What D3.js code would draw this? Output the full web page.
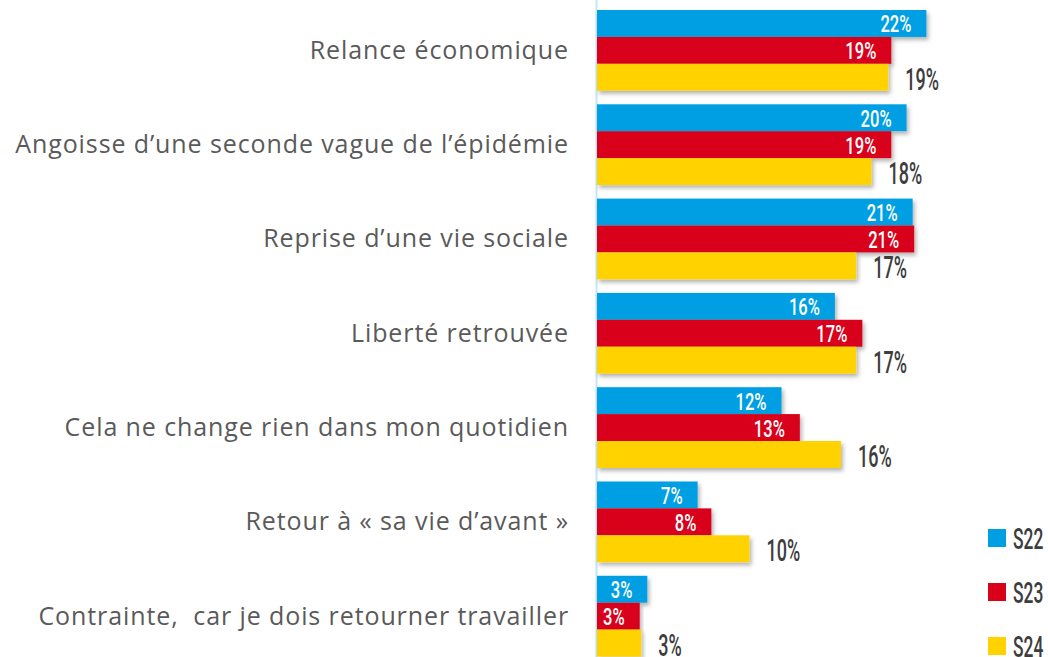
<!DOCTYPE html>
<html>
<head>
<meta charset="utf-8">
<script src="https://cdn.jsdelivr.net/npm/d3@7"></script>
<style>
    body { margin: 0; background: #fff; }
    #chart { width: 1048px; height: 657px; }
    .cat { font-family: "Open Sans", Roboto, sans-serif; fill: #5a5a5a; }
    .num { font-family: Roboto, "DejaVu Sans", sans-serif; font-weight: 500; }
</style>
</head>
<body>
<div id="chart"></div>
<script>
let categories = [
    "Relance économique",
    "Angoisse d\u2019une seconde vague de l\u2019épidémie",
    "Reprise d\u2019une vie sociale",
    "Liberté retrouvée",
    "Cela ne change rien dans mon quotidien",
    "Retour à « sa vie d\u2019avant »",
    "Contrainte,  car je dois retourner travailler"
];
let seriesNames = ["S22", "S23", "S24"];
let s22 = [22, 20, 21, 16, 12, 7, 3];
let s23 = [19, 19, 21, 17, 13, 8, 3];
let s24 = [19, 18, 17, 17, 16, 10, 3];
// bar lengths (labels show the rounded values above)
let s22Len = [21.6, 20.3, 20.7, 15.6, 12.1, 6.6, 3.3];
let s23Len = [19.3, 19.3, 20.8, 17.4, 13.3, 7.5, 2.8];
let s24Len = [19.1, 18.0, 17.0, 17.0, 16.0, 10.0, 2.9];
let colors = ["#009fe3", "#d9001a", "#ffd200"];

let width = 1048, height = 657;

let svg = d3.select("#chart")
    .append("svg")
    .attr("width", width)
    .attr("height", height);

// soft shadow under the bars
let defs = svg.append("defs");
defs.append("filter")
    .attr("id", "shadow")
    .attr("x", "-5%").attr("y", "-20%")
    .attr("width", "115%").attr("height", "160%")
    .append("feDropShadow")
    .attr("dx", 2).attr("dy", 3)
    .attr("stdDeviation", 2)
    .attr("flood-color", "#000")
    .attr("flood-opacity", 0.3);

let x = d3.scaleLinear()
    .domain([0, 22])
    .range([597, 597 + 15.25 * 22]);

let y = d3.scaleBand()
    .domain(categories)
    .range([10, 656.5])
    .paddingInner(0.144)
    .paddingOuter(0);

let ySub = d3.scaleBand()
    .domain(seriesNames)
    .range([0, y.bandwidth()]);

let rows = categories.map(function(c, i) {
    return {
        name: c,
        values: [
            {series: "S22", value: s22[i], len: s22Len[i]},
            {series: "S23", value: s23[i], len: s23Len[i]},
            {series: "S24", value: s24[i], len: s24Len[i]}
        ]
    };
});

let color = d3.scaleOrdinal().domain(seriesNames).range(colors);

// axis line
svg.append("line")
    .attr("x1", x(0) - 0.5).attr("x2", x(0) - 0.5)
    .attr("y1", 0).attr("y2", height)
    .attr("stroke", "#c5e6f6")
    .attr("stroke-width", 2);

let groups = svg.selectAll("g.row")
    .data(rows)
    .enter()
    .append("g")
    .attr("class", "row")
    .attr("transform", function(d) { return "translate(0," + y(d.name) + ")"; });

groups.selectAll("rect")
    .data(function(d) { return d.values; })
    .enter()
    .append("rect")
    .attr("x", x(0))
    .attr("y", function(d) { return ySub(d.series); })
    .attr("width", function(d) { return x(d.len) - x(0); })
    .attr("height", ySub.bandwidth())
    .attr("fill", function(d) { return color(d.series); })
    .attr("filter", "url(#shadow)");

// white labels inside the S22 / S23 bars
groups.selectAll("text.in")
    .data(function(d) { return d.values.filter(function(v) { return v.series !== "S24"; }); })
    .enter()
    .append("text")
    .attr("class", "num in")
    .attr("text-anchor", "end")
    .attr("transform", function(d) {
        return "translate(" + (x(d.len) - 15) + "," + (ySub(d.series) + ySub.bandwidth() / 2 + 9) + ") scale(0.72,1)";
    })
    .style("font-size", "23px")
    .style("fill", "#fff")
    .text(function(d) { return d.value + "%"; });

// dark labels after the S24 bar
groups.selectAll("text.out")
    .data(function(d) { return d.values.filter(function(v) { return v.series === "S24"; }); })
    .enter()
    .append("text")
    .attr("class", "num out")
    .attr("transform", function(d) {
        return "translate(" + (x(d.len) + 17) + "," + (ySub(d.series) + ySub.bandwidth() / 2 + 12.5) + ") scale(0.58,1)";
    })
    .style("font-size", "31px")
    .style("fill", "#3d3d3d")
    .text(function(d) { return d.value + "%"; });

// category labels
svg.selectAll("text.cat")
    .data(categories)
    .enter()
    .append("text")
    .attr("class", "cat")
    .attr("x", 569)
    .attr("y", function(d) { return y(d) + y.bandwidth() / 2 + 8.5; })
    .attr("text-anchor", "end")
    .attr("xml:space", "preserve")
    .style("white-space", "pre")
    .style("font-size", "25px")
    .style("letter-spacing", "0.9px")
    .text(function(d) { return d; });

// legend
let legend = svg.selectAll("g.legend")
    .data(seriesNames)
    .enter()
    .append("g")
    .attr("class", "legend")
    .attr("transform", function(d, i) { return "translate(988," + (529 + i * 54) + ")"; });

legend.append("rect")
    .attr("width", 18)
    .attr("height", 18)
    .attr("fill", function(d) { return color(d); });

legend.append("text")
    .attr("class", "num")
    .attr("transform", "translate(25,20) scale(0.58,1)")
    .style("font-size", "30px")
    .style("fill", "#3d3d3d")
    .text(function(d) { return d; });
</script>
</body>
</html>
